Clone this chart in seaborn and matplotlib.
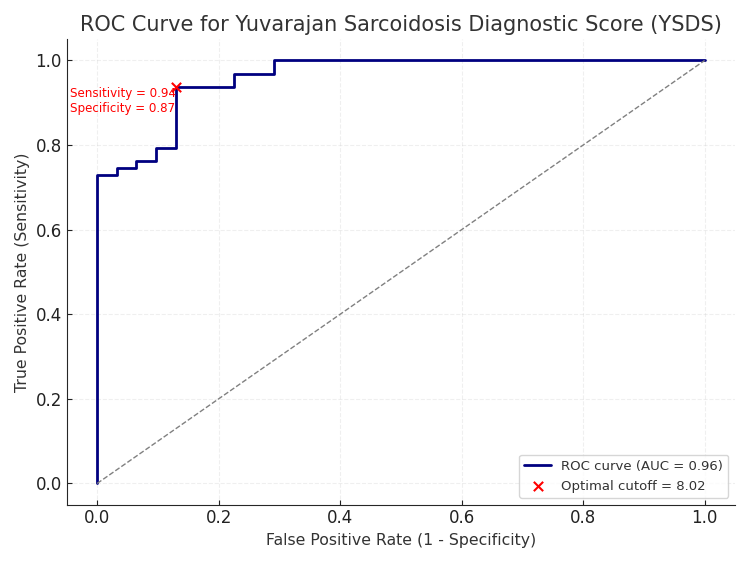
import matplotlib
matplotlib.use("Agg")
import matplotlib.pyplot as plt
import seaborn as sns
import pandas as pd

fpr = [0.0, 0.0, 1/31, 1/31, 2/31, 2/31, 3/31, 3/31, 4/31, 4/31, 7/31, 7/31, 9/31, 9/31, 1.0]
tpr = [0.0, 46/63, 46/63, 47/63, 47/63, 48/63, 48/63, 50/63, 50/63, 59/63, 59/63, 61/63, 61/63, 1.0, 1.0]
auc_val = 0.96
opt_fpr = 4/31
opt_tpr = 59/63
opt_cutoff = 8.02
sens_label = 0.94
spec_label = 0.87

sns.set_style("ticks")
plt.rcParams['font.family'] = ['DejaVu Sans']
plt.rcParams['text.color'] = '#333333'
plt.rcParams['axes.labelcolor'] = '#333333'
plt.rcParams['xtick.direction'] = 'in'
plt.rcParams['ytick.direction'] = 'in'

fig, ax = plt.subplots(figsize=(7.5, 5.63), dpi=100)
df = pd.DataFrame({"fpr": fpr, "tpr": tpr})
sns.lineplot(data=df, x="fpr", y="tpr", sort=False, color="navy", lw=2,
             label=f"ROC curve (AUC = {auc_val:.2f})", ax=ax, estimator=None)
ax.plot([0, 1], [0, 1], color="gray", lw=1, linestyle="--")
ax.scatter([opt_fpr], [opt_tpr], color="red", marker="x", s=45, zorder=5,
           label=f"Optimal cutoff = {opt_cutoff:.2f}")
ax.text(opt_fpr, opt_tpr, f"Sensitivity = {sens_label:.2f}\nSpecificity = {spec_label:.2f}",
        color="red", fontsize=8.6, ha="right", va="top")
ax.set_title("ROC Curve for Yuvarajan Sarcoidosis Diagnostic Score (YSDS)", fontsize=15)
ax.set_xlabel("False Positive Rate (1 - Specificity)", fontsize=11.3)
ax.set_ylabel("True Positive Rate (Sensitivity)", fontsize=11.3)
ax.tick_params(labelsize=12, colors='#222222')
ax.grid(True, linestyle="--", alpha=0.3)
sns.despine(ax=ax)
ax.legend(loc="lower right", fontsize=9.5)
fig.tight_layout()
fig.savefig("out.png", dpi=100)
